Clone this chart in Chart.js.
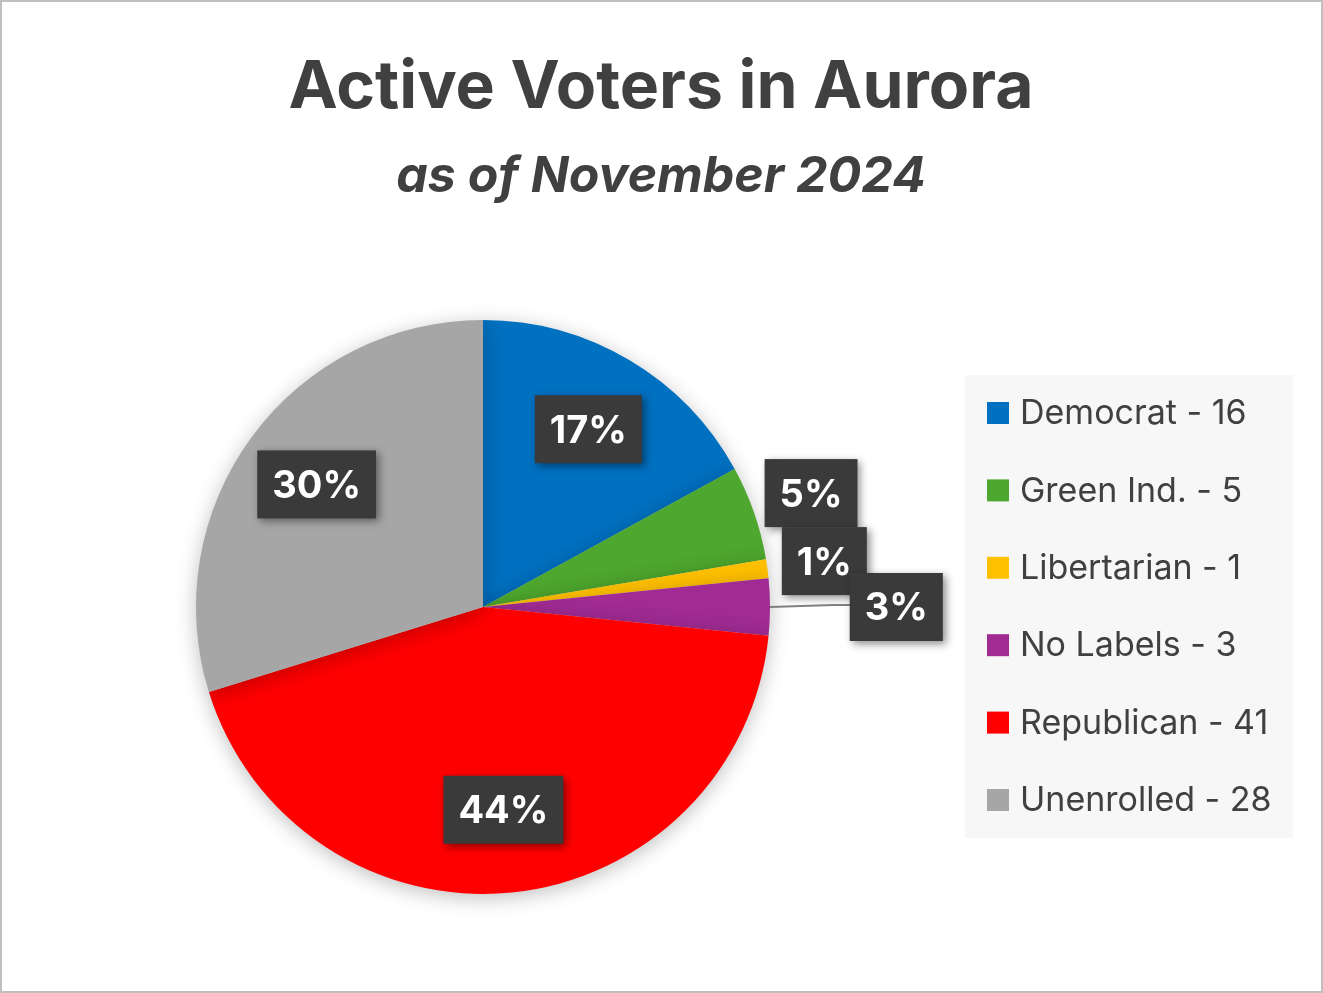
<!DOCTYPE html>
<html><head><meta charset="utf-8">
<script src="https://cdn.jsdelivr.net/npm/chart.js@4/dist/chart.umd.min.js"></script>
<style>html,body{margin:0;padding:0;background:#fff}#w{width:1323px;height:993px;position:relative}</style>
</head><body><div id="w"><canvas id="c" width="1323" height="993"></canvas></div>
<script>
const categories = ["Democrat","Green Ind.","Libertarian","No Labels","Republican","Unenrolled"];
const values = [16,5,1,3,41,28];
const colors = ["#0070C0","#4EA72E","#FFC000","#A02B93","#FF0000","#A6A6A6"];
const titleText = "Active Voters in Aurora";
const subtitleText = "as of November 2024";
const FONT = "Inter, 'Noto Sans', sans-serif";
const labelDist = [0.72,1.21,1.2,1.44,0.71,0.72];

const deco = {
  id:'deco',
  beforeDraw(ch){
    const c=ch.ctx;c.save();
    c.fillStyle='#fff';c.fillRect(0,0,1323,993);
    c.strokeStyle='#BFBFBF';c.lineWidth=2;c.strokeRect(1,1,1321,991);
    c.fillStyle='#404040';c.textAlign='center';c.textBaseline='middle';
    c.font='bold 66px '+FONT;c.fillText(titleText,661,88);
    c.font='italic bold 50px '+FONT;c.fillText(subtitleText,661,177);
    // legend
    c.fillStyle='#F7F7F7';c.fillRect(965,375,328,463);
    c.textAlign='left';c.font='34px '+FONT;
    categories.forEach((n,i)=>{const y=413+i*77.4;
      c.fillStyle=colors[i];c.fillRect(987,y-11,22,22);
      c.fillStyle='#404040';c.fillText(n+' - '+values[i],1020,y+1);});
    c.restore();
  },
  beforeDatasetsDraw(ch){const c=ch.ctx;c.save();c.shadowColor='rgba(0,0,0,0.25)';c.shadowBlur=20;c.shadowOffsetY=4;},
  afterDatasetsDraw(ch){
    const c=ch.ctx;c.restore();c.save();
    const tot=values.reduce((a,b)=>a+b,0);
    ch.getDatasetMeta(0).data.forEach((a,i)=>{
      const mid=(a.startAngle+a.endAngle)/2, R=a.outerRadius;
      const x=a.x+Math.cos(mid)*R*labelDist[i], y=a.y+Math.sin(mid)*R*labelDist[i];
      if(labelDist[i]>1.3){c.strokeStyle='#7F7F7F';c.lineWidth=2;c.beginPath();
        c.moveTo(a.x+Math.cos(mid)*R,a.y+Math.sin(mid)*R);c.lineTo(x-63,y-2);c.lineTo(x-43,y-2);c.stroke();}
      const t=Math.round(values[i]/tot*100)+'%';
      c.font='bold 38px '+FONT;const w=c.measureText(t).width+30,h=68;
      c.shadowColor='rgba(0,0,0,0.45)';c.shadowBlur=8;c.shadowOffsetX=3;c.shadowOffsetY=3;
      c.fillStyle='#3A3A3A';c.fillRect(x-w/2,y-h/2,w,h);
      c.shadowColor='transparent';
      c.fillStyle='#fff';c.textAlign='center';c.textBaseline='middle';c.fillText(t,x,y+2);
    });
    c.restore();
  }
};
new Chart(document.getElementById('c'),{
  type:'pie',
  data:{labels:categories,datasets:[{data:values,backgroundColor:colors,borderWidth:0}]},
  options:{responsive:false,animation:false,
    layout:{padding:{left:196,right:553,top:320,bottom:99}},
    plugins:{legend:{display:false},tooltip:{enabled:false},title:{display:false}}},
  plugins:[deco]
});
</script></body></html>
